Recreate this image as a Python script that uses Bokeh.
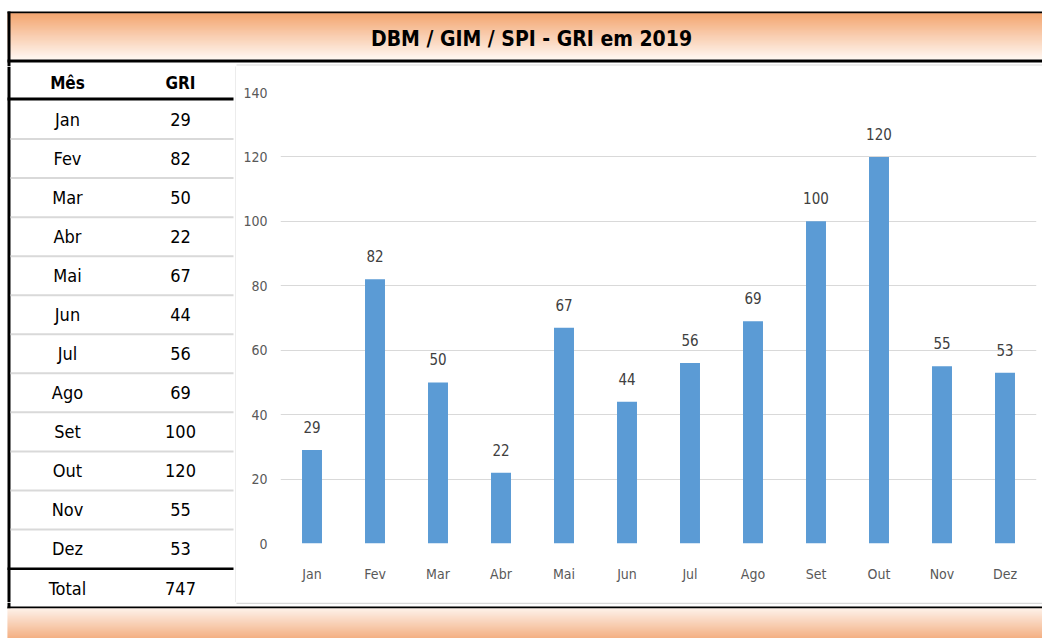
from bokeh.plotting import figure
from bokeh.layouts import column, row
from bokeh.models import Range1d, FactorRange, ColumnDataSource, LabelSet, FixedTicker
from bokeh.core.properties import value
from bokeh.embed import file_html
from bokeh.resources import INLINE

# ---------------- data ----------------
months = ["Jan", "Fev", "Mar", "Abr", "Mai", "Jun", "Jul", "Ago", "Set", "Out", "Nov", "Dez"]
gri = [29, 82, 50, 22, 67, 44, 56, 69, 100, 120, 55, 53]
title_text = "DBM / GIM / SPI - GRI em 2019"
col_headers = ["Mês", "GRI"]
total_label = "Total"
y_ticks = [0, 20, 40, 60, 80, 100, 120, 140]

FONT = "DejaVu Sans Condensed, Roboto Condensed, Liberation Sans Narrow, Roboto, sans-serif"
ORANGE_DARK = (239, 136, 66)
ORANGE_LIGHT = (255, 244, 236)


def canvas(x0, x1, y0, y1):
    p = figure(width=int(x1 - x0), height=int(y1 - y0),
               x_range=Range1d(x0, x1), y_range=Range1d(y1, y0),
               x_axis_type=None, y_axis_type=None,
               toolbar_location=None, output_backend="svg",
               min_border=0, outline_line_color=None)
    return p


def box(p, x0, x1, y0, y1, color):
    p.quad(left=x0, right=x1, top=y0, bottom=y1, fill_color=color, line_color=None)


def gradient(p, x0, x1, y0, y1, c_top, c_bot):
    n = int(y1 - y0)
    tops, bots, cols = [], [], []
    for i in range(n):
        t = i / max(n - 1, 1)
        c = tuple(int(round(a + (b - a) * t)) for a, b in zip(c_top, c_bot))
        cols.append("#%02x%02x%02x" % c)
        tops.append(y0 + i)
        bots.append(y0 + i + 1)
    p.quad(left=x0, right=x1, top=tops, bottom=bots, fill_color=cols, line_color=None)


# ---------------- title band ----------------
top = canvas(0, 1042, 0, 66)
box(top, 7, 1042, 11, 13, "#000000")
gradient(top, 7, 1042, 13, 59, ORANGE_DARK, ORANGE_LIGHT)
box(top, 7, 1042, 59, 62, "#000000")
box(top, 7, 10, 11, 66, "#000000")
box(top, 236, 1042, 64, 65, "#D9D9D9")
top.text(x=[531], y=[38], text=[title_text], text_font=value(FONT), text_font_style="bold",
         text_font_size="21px", text_align="center", text_baseline="middle", text_color="#000000")

# ---------------- table ----------------
tb = canvas(0, 236, 66, 602)
box(tb, 7, 10, 66, 602, "#000000")
box(tb, 235, 236, 65, 602, "#D9D9D9")
col_x = [67, 180]
tb.text(x=col_x, y=[82, 82], text=col_headers, text_font=value(FONT), text_font_style="bold",
        text_font_size="17px", text_align="center", text_baseline="middle", text_color="#000000")
box(tb, 7, 233, 97, 100, "#000000")
row_top = 99.5
row_h = (568 - 99.5) / len(months)
ys = [row_top + row_h * (i + 0.5) for i in range(len(months))]
tb.text(x=[col_x[0]] * len(months), y=ys, text=months, text_font=value(FONT),
        text_font_size="18px", text_align="center", text_baseline="middle", text_color="#000000")
tb.text(x=[col_x[1]] * len(months), y=ys, text=[str(v) for v in gri], text_font=value(FONT),
        text_font_size="18px", text_align="center", text_baseline="middle", text_color="#000000")
for i in range(1, len(months)):
    yb = row_top + row_h * i
    box(tb, 10, 233, yb - 1, yb + 1, "#D9D9D9")
box(tb, 7, 233, 567, 569.5, "#000000")
tb.text(x=col_x, y=[588, 588], text=[total_label, str(sum(gri))], text_font=value(FONT),
        text_font_size="18px", text_align="center", text_baseline="middle", text_color="#000000")

# ---------------- chart ----------------
src = ColumnDataSource(dict(m=months, v=gri, lab=[str(v) for v in gri]))
ch = figure(width=806, height=536, x_range=FactorRange(*months), y_range=Range1d(0, 140),
            toolbar_location=None, output_backend="svg",
            min_border_left=44, min_border_right=6, min_border_top=26, min_border_bottom=59,
            outline_line_color=None)
ch.vbar(x="m", top="v", width=0.317, source=src, fill_color="#5B9BD5", line_color=None)
labels = LabelSet(x="m", y="v", text="lab", source=src, y_offset=17, text_align="center",
                  text_baseline="alphabetic", text_font=value(FONT), text_font_size="15px",
                  text_color="#404040")
ch.add_layout(labels)
ch.yaxis.ticker = FixedTicker(ticks=y_ticks)
ch.ygrid.ticker = FixedTicker(ticks=y_ticks)
ch.xgrid.grid_line_color = None
ch.ygrid.grid_line_color = "#D9D9D9"
ch.ygrid.grid_line_width = 1
for ax in (ch.xaxis[0], ch.yaxis[0]):
    ax.axis_line_color = None
    ax.major_tick_line_color = None
    ax.minor_tick_line_color = None
    ax.major_tick_out = 0
    ax.major_tick_in = 0
    ax.minor_tick_out = 0
    ax.minor_tick_in = 0
    ax.major_label_text_font = FONT
    ax.major_label_text_font_size = "14px"
    ax.major_label_text_color = "#595959"
ch.yaxis.major_label_standoff = 13
ch.xaxis.major_label_standoff = 22

# ---------------- bottom band ----------------
bot = canvas(0, 1042, 602, 638)
box(bot, 7, 10, 602, 608, "#000000")
box(bot, 236, 1042, 602, 603.5, "#D9D9D9")
box(bot, 7, 1042, 606, 608, "#000000")
gradient(bot, 7, 1042, 608, 638, (253, 236, 224), (240, 150, 92))

layout = column(top, row(column(tb, spacing=0), column(ch, spacing=0), spacing=0), bot, spacing=0)
open("out.html", "w").write(file_html(layout, INLINE))
